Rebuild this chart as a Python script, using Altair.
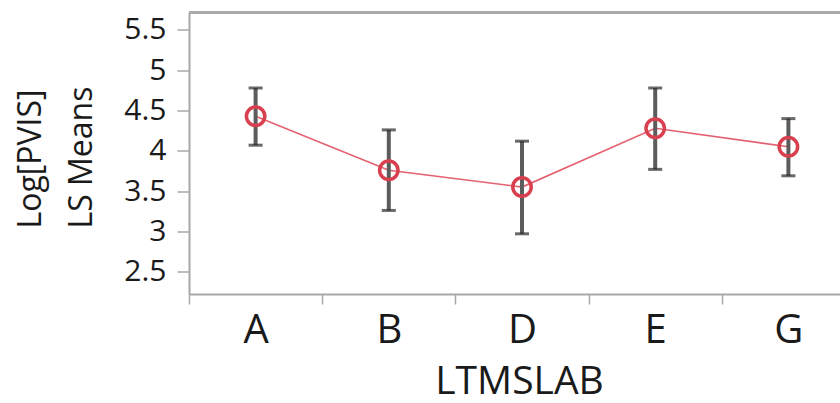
import altair as alt
import pandas as pd

# LS means of Log[PVIS] by lab, with their confidence limits
labs = ["A", "B", "D", "E", "G"]
ls_means = [4.43, 3.76, 3.55, 4.28, 4.05]
lower_cl = [4.07, 3.26, 2.97, 3.77, 3.69]
upper_cl = [4.78, 4.26, 4.12, 4.78, 4.40]
y_ticks = [2.5, 3, 3.5, 4, 4.5, 5, 5.5]

df = pd.DataFrame({"LTMSLAB": labs, "mean": ls_means, "lo": lower_cl, "hi": upper_cl})

FONT = "Open Sans"
FRAME = "#a8a8a8"

x_scale = alt.Scale(domain=labs, range=[0, 666], paddingInner=0, paddingOuter=0)
y_scale = alt.Scale(domain=[2.223, 5.717], nice=False, zero=False)

x_enc = alt.X(
    "LTMSLAB:N",
    scale=x_scale,
    sort=labs,
    axis=alt.Axis(
        title="LTMSLAB",
        labelAngle=0,
        tickBand="extent",
        tickSize=10,
        tickColor=FRAME,
        tickWidth=1.5,
        domainColor=FRAME,
        domainWidth=2,
        labelFont=FONT,
        labelFontSize=40,
        labelColor="#1a1a1a",
        labelBaseline="alphabetic",
        labelPadding=38.7,
        titleFont=FONT,
        titleFontSize=39,
        titleFontWeight="normal",
        titleColor="#1a1a1a",
        titleBaseline="alphabetic",
        titleX=330,
        titleY=99,
    ),
)

y_axis = alt.Axis(
    title=["Log[PVIS]", "LS Means"],
    values=y_ticks,
    format="~g",
    grid=False,
    tickSize=12,
    tickColor=FRAME,
    tickWidth=1.5,
    domainColor=FRAME,
    domainWidth=2,
    labelFont=FONT,
    labelFontSize=30,
    labelColor="#1a1a1a",
    labelPadding=11,
    labelBaseline="middle",
    titleFont=FONT,
    titleFontSize=32,
    titleFontWeight="normal",
    titleColor="#1a1a1a",
    titleAngle=270,
    titleAlign="left",
    titleBaseline="alphabetic",
    titleLineHeight=51.5,
    titleX=-149,
    titleY=215.5,
)

base = alt.Chart(df)

line = base.mark_line(color="#e4616f", strokeWidth=1.6).encode(
    x=x_enc, y=alt.Y("mean:Q", scale=y_scale, axis=y_axis)
)

bars = base.mark_rule(color="#5c5c5c", strokeWidth=4).encode(
    x=x_enc, y=alt.Y("lo:Q", scale=y_scale, axis=y_axis), y2="hi:Q"
)

cap_lo = base.mark_tick(color="#2a2a2a", size=14, thickness=3).encode(
    x=x_enc, y=alt.Y("lo:Q", scale=y_scale, axis=y_axis)
)
cap_hi = base.mark_tick(color="#2a2a2a", size=14, thickness=3).encode(
    x=x_enc, y=alt.Y("hi:Q", scale=y_scale, axis=y_axis)
)

points = base.mark_point(
    shape="circle", filled=False, color="#d9404f", strokeWidth=3.5, size=340, opacity=1
).encode(x=x_enc, y=alt.Y("mean:Q", scale=y_scale, axis=y_axis))

# top edge of the plot frame (left and bottom come from the axis domains)
top_edge = base.mark_rule(color=FRAME, strokeWidth=2).encode(
    x=alt.value(0), x2=alt.value(666), y=alt.value(0)
)

chart = (
    alt.layer(top_edge, line, bars, cap_lo, cap_hi, points)
    .properties(
        width=651,
        height=281.5,
        autosize=alt.AutoSizeParams(type="none"),
        padding={"left": 189, "top": 12.5, "right": 0, "bottom": 109},
    )
    .configure_view(stroke=None)
    .configure(background="white")
)

chart.save("out.html", embed_options={"renderer": "svg", "actions": False})
